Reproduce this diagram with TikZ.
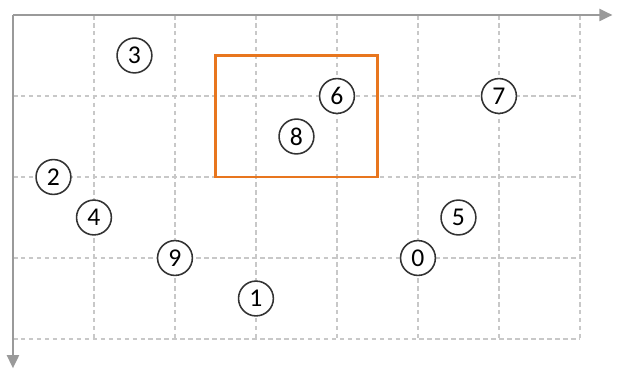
\documentclass[tikz,border=0pt]{standalone}
\usepackage{fontspec}
\setmainfont{Carlito}
\usetikzlibrary{arrows.meta}
\definecolor{axisgray}{HTML}{9A9A9A}
\definecolor{gridgray}{HTML}{C8C8C8}
\definecolor{boxorange}{HTML}{E8761E}
\begin{document}
\begin{tikzpicture}[x=1cm, y=-1cm,
  every node/.style={font=\fontsize{9}{10}\selectfont},
  pt/.style={draw=black!80, line width=0.55pt, circle, inner sep=0pt, minimum size=0.43cm, fill=white},
  axis/.style={draw=axisgray, line width=0.55pt, -{Triangle[length=1.6mm, width=1.5mm]}},
  gridline/.style={draw=gridgray, line width=0.4pt, dash pattern=on 1.6pt off 1.2pt},
  region/.style={draw=boxorange, line width=0.9pt}]
\useasboundingbox (-0.16,-0.185) rectangle (7.482,4.395);
% grid
\foreach \gx in {1,...,7} {\draw[gridline] (\gx,0) -- (\gx,4);}
\foreach \gy in {1,...,4} {\draw[gridline] (0,\gy) -- (7,\gy);}
% axes
\coordinate (o) at (0,0);
\coordinate (xend) at (7.4,0);
\coordinate (yend) at (0,4.36);
\draw[axis] (o) -- (xend);
\draw[axis] (o) -- (yend);
% query window
\coordinate (boxtl) at (2.5,0.5);
\coordinate (boxbr) at (4.5,2);
\draw[region] (boxtl) rectangle (boxbr);
% points
\node[pt] (p3) at (1.5,0.5) {3};
\node[pt] (p6) at (4,1) {6};
\node[pt] (p7) at (6,1) {7};
\node[pt] (p8) at (3.5,1.5) {8};
\node[pt] (p2) at (0.5,2) {2};
\node[pt] (p4) at (1,2.5) {4};
\node[pt] (p5) at (5.5,2.5) {5};
\node[pt] (p9) at (2,3) {9};
\node[pt] (p0) at (5,3) {0};
\node[pt] (p1) at (3,3.5) {1};
\end{tikzpicture}
\end{document}
